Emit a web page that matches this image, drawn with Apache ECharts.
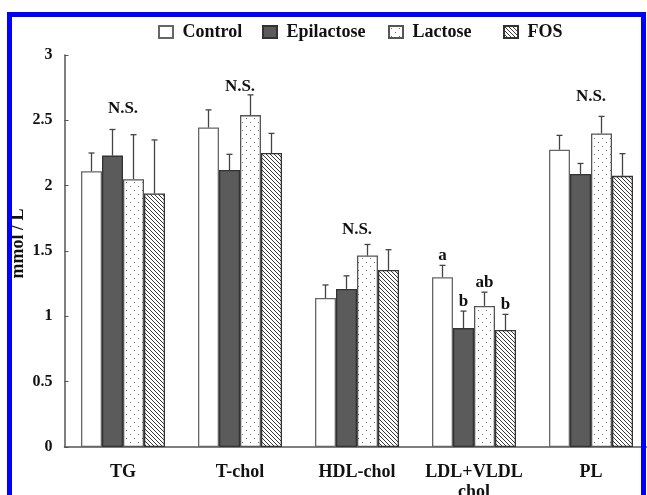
<!DOCTYPE html>
<html>
<head>
<meta charset="utf-8">
<script src="https://cdn.jsdelivr.net/npm/echarts@6/dist/echarts.min.js"></script>
<style>
  html, body { margin: 0; padding: 0; background: #fff; }
  #chart { width: 647px; height: 495px; }
</style>
</head>
<body>
<div id="chart"></div>
<script>
// lipid values, mmol / L (mean and error)
const categories = ['TG', 'T-chol', 'HDL-chol', 'LDL+VLDL\nchol', 'PL'];
const groups = ['Control', 'Epilactose', 'Lactose', 'FOS'];

const controlMean = [2.11, 2.445, 1.14, 1.30, 2.275];
const controlErr = [0.14, 0.135, 0.10, 0.09, 0.11];
const epilactoseMean = [2.23, 2.12, 1.21, 0.91, 2.09];
const epilactoseErr = [0.20, 0.12, 0.10, 0.13, 0.08];
const lactoseMean = [2.05, 2.54, 1.465, 1.08, 2.40];
const lactoseErr = [0.34, 0.155, 0.085, 0.105, 0.13];
const fosMean = [1.94, 2.25, 1.355, 0.895, 2.075];
const fosErr = [0.41, 0.15, 0.155, 0.12, 0.17];

const controlSig = ['', '', '', 'a', ''];
const epilactoseSig = ['', '', '', 'b', ''];
const lactoseSig = ['', '', '', 'ab', ''];
const fosSig = ['', '', '', 'b', ''];

const nsText = ['N.S.', 'N.S.', 'N.S.', '', 'N.S.'];
const nsLevel = [2.59, 2.76, 1.66, 0, 2.68];

const serif = '"Liberation Serif", "DejaVu Serif", serif';
const barW = 21;

function hatchPattern() {
    const c = document.createElement('canvas');
    c.width = 4; c.height = 4;
    const g = c.getContext('2d');
    g.fillStyle = '#fff';
    g.fillRect(0, 0, 4, 4);
    g.strokeStyle = '#3a3a3a';
    g.lineWidth = 1;
    g.beginPath();
    g.moveTo(-1, -1); g.lineTo(5, 5);
    g.moveTo(-1, 3); g.lineTo(1, 5);
    g.moveTo(3, -1); g.lineTo(5, 1);
    g.stroke();
    return c;
}

function dotPattern() {
    const c = document.createElement('canvas');
    c.width = 8; c.height = 8;
    const g = c.getContext('2d');
    g.fillStyle = '#fff';
    g.fillRect(0, 0, 8, 8);
    g.fillStyle = '#777';
    g.fillRect(2, 2, 1, 1);
    g.fillRect(6, 6, 1, 1);
    return c;
}

const fills = [
    '#ffffff',
    '#5b5b5b',
    { image: dotPattern(), repeat: 'repeat' },
    { image: hatchPattern(), repeat: 'repeat' }
];
const borders = ['#666', '#333', '#555', '#333'];
const means = [controlMean, epilactoseMean, lactoseMean, fosMean];
const errs = [controlErr, epilactoseErr, lactoseErr, fosErr];
const sigs = [controlSig, epilactoseSig, lactoseSig, fosSig];

function errRender(offset, sig) {
    return function (params, api) {
        const i = api.value(0);
        const base = api.coord([i, api.value(1)]);
        const top = api.coord([i, api.value(1) + api.value(2)]);
        const x = base[0] + offset;
        const children = [
            { type: 'line', shape: { x1: x, y1: base[1], x2: x, y2: top[1] }, style: { stroke: '#444', lineWidth: 1.3 } },
            { type: 'line', shape: { x1: x - 3, y1: top[1], x2: x + 3, y2: top[1] }, style: { stroke: '#444', lineWidth: 1.3 } }
        ];
        const s = sig[params.dataIndex];
        if (s) {
            children.push({
                type: 'text', x: x, y: top[1] - 1,
                style: { text: s, align: 'center', verticalAlign: 'bottom', font: 'bold 17px ' + serif, fill: '#111' }
            });
        }
        return { type: 'group', children: children };
    };
}

const series = [];
groups.forEach(function (name, k) {
    series.push({
        name: name,
        type: 'bar',
        barWidth: barW,
        barGap: '0%',
        itemStyle: { color: fills[k], borderColor: borders[k], borderWidth: 1.3 },
        data: means[k]
    });
});
groups.forEach(function (name, k) {
    series.push({
        name: name + ' err',
        type: 'custom',
        renderItem: errRender((k - 1.5) * barW, sigs[k]),
        encode: { x: 0, y: 1 },
        z: 3,
        data: categories.map(function (c, i) { return [i, means[k][i], errs[k][i]]; })
    });
});
series.push({
    name: 'notes',
    type: 'custom',
    encode: { x: 0, y: 1 },
    renderItem: function (params, api) {
        const t = nsText[params.dataIndex];
        if (!t) return null;
        const p = api.coord([api.value(0), api.value(1)]);
        return {
            type: 'text', x: p[0], y: p[1],
            style: { text: t, align: 'center', verticalAlign: 'middle', font: 'bold 17px ' + serif, fill: '#111' }
        };
    },
    data: categories.map(function (c, i) { return [i, nsLevel[i]]; })
});

// one legend per item so each sits where it does in the figure
const legendLeft = [153, 257, 383, 498];
const legends = groups.map(function (g, k) {
    return {
        left: legendLeft[k],
        top: 18,
        itemWidth: 14,
        itemHeight: 12,
        icon: 'rect',
        formatter: ' {name}',
        textStyle: { fontFamily: serif, fontWeight: 'bold', fontSize: 18, color: '#111' },
        data: [g]
    };
});

const myChart = echarts.init(document.getElementById('chart'));
myChart.setOption({
    animation: false,
    backgroundColor: '#fff',
    legend: legends,
    grid: {
        left: 64.5,
        top: 55,
        width: 585,
        bottom: 48,
        containLabel: false,
        outerBoundsMode: 'none'
    },
    xAxis: {
        type: 'category',
        data: categories,
        axisLine: { lineStyle: { color: '#555', width: 1.5 } },
        axisTick: { inside: true, length: 4, lineStyle: { color: '#555' } },
        axisLabel: {
            interval: 0,
            margin: 15,
            fontFamily: serif,
            fontWeight: 'bold',
            fontSize: 18,
            lineHeight: 20,
            color: '#111'
        },
        splitLine: { show: false }
    },
    yAxis: {
        type: 'value',
        min: 0,
        max: 3,
        interval: 0.5,
        name: 'mmol / L',
        nameLocation: 'middle',
        nameGap: 37,
        nameMoveOverlap: false,
        nameTextStyle: { fontFamily: serif, fontWeight: 'bold', fontSize: 18, color: '#111', padding: [0, 0, 0, 15] },
        axisLine: { show: true, lineStyle: { color: '#555', width: 1.5 } },
        axisTick: { show: true, inside: true, length: 4, lineStyle: { color: '#555' } },
        axisLabel: { margin: 12, fontFamily: serif, fontWeight: 'bold', fontSize: 16, color: '#111' },
        splitLine: { show: false }
    },
    graphic: [{
        type: 'rect',
        silent: true,
        z: 100,
        shape: { x: 9.5, y: 14.5, width: 634, height: 520 },
        style: { fill: 'none', stroke: '#0000ff', lineWidth: 5 }
    }],
    series: series
});

window.addEventListener('resize', function () {
    myChart.resize();
});
</script>
</body>
</html>
